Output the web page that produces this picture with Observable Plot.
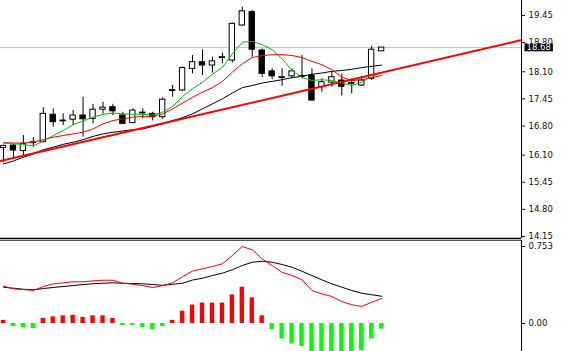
<!DOCTYPE html>
<html><head><meta charset="utf-8">
<script src="https://cdn.jsdelivr.net/npm/d3@7"></script>
<script src="https://cdn.jsdelivr.net/npm/@observablehq/plot@0.6"></script>
<style>
body{margin:0;background:#fff;}
#chart{width:561px;height:351px;overflow:hidden;background:#fff;}
#chart svg{display:block;}
</style></head><body><div id="chart"></div>
<script>
// ---- Price data (OHLC per bar) ----
const opens  = [16.27,16.33,16.20,16.39,16.41,17.07,16.91,16.95,17.05,16.97,17.19,17.25,17.05,16.87,17.10,17.09,17.01,17.64,17.65,18.17,18.33,18.25,18.43,18.37,19.21,19.53,18.61,18.11,17.95,17.99,17.98,18.01,17.73,17.84,17.89,17.81,17.77,17.93,18.59];
const highs  = [16.34,16.37,16.57,16.52,17.24,17.21,17.09,17.17,17.49,17.32,17.37,17.32,17.13,17.21,17.21,17.13,17.48,17.77,18.21,18.49,18.63,18.45,18.55,19.27,19.65,19.57,18.65,18.17,18.17,18.17,18.49,18.17,17.93,18.09,18.04,17.93,17.99,18.71,18.68];
const lows   = [15.92,16.01,16.09,16.29,16.40,16.77,16.81,16.81,16.53,16.85,17.09,17.05,16.84,16.85,16.97,16.92,16.96,17.49,17.63,18.05,18.01,18.07,18.29,18.31,19.19,18.45,17.96,17.91,17.75,17.93,17.93,17.39,17.61,17.73,17.52,17.57,17.75,17.89,18.59];
const closes = [16.32,16.21,16.37,16.41,17.09,16.89,16.93,17.05,16.96,17.19,17.24,17.15,16.85,17.17,17.12,17.01,17.43,17.66,18.19,18.33,18.25,18.35,18.45,19.25,19.55,18.63,18.05,17.99,17.97,18.11,18.00,17.41,17.85,17.97,17.74,17.83,17.89,18.63,18.68];

// ---- Moving averages ----
const maFast = [16.39,16.37,16.36,16.32,16.44,16.57,16.69,16.83,16.92,17.01,17.08,17.11,17.09,17.08,17.08,17.06,17.13,17.27,17.51,17.69,17.85,18.04,18.21,18.53,18.81,18.83,18.75,18.63,18.41,18.13,17.96,17.89,17.91,17.89,17.83,17.77,17.85,17.99,18.08];
const maMid  = [16.40,16.39,16.39,16.41,16.47,16.53,16.57,16.61,16.65,16.73,16.85,16.93,16.97,17.01,17.03,17.03,17.09,17.21,17.35,17.49,17.61,17.72,17.87,18.09,18.29,18.44,18.49,18.51,18.51,18.49,18.44,18.35,18.27,18.15,17.97,17.89,17.91,17.96,18.01];
const maSlow = [15.89,15.96,16.05,16.13,16.23,16.29,16.36,16.41,16.47,16.55,16.61,16.65,16.68,16.71,16.73,16.79,16.85,16.93,17.00,17.09,17.21,17.33,17.45,17.59,17.72,17.77,17.83,17.87,17.91,17.96,17.99,18.04,18.07,18.11,18.13,18.16,18.20,18.23,18.26];

// ---- Trend line anchors (bar index, price) ----
const trendIdx   = [-0.3, 52.06];
const trendPrice = [15.96, 18.86];

// ---- Oscillator panel ----
const histo  = [0.03,-0.03,-0.04,-0.05,0.05,0.065,0.075,0.08,0.06,0.075,0.075,0.05,-0.02,-0.02,-0.04,-0.06,-0.03,0.03,0.12,0.18,0.2,0.2,0.2,0.28,0.355,0.25,0.075,-0.06,-0.15,-0.2,-0.225,-0.3,-0.3,-0.32,-0.3,-0.28,-0.265,-0.15,-0.055];
const macd   = [0.365,0.339,0.332,0.323,0.362,0.388,0.398,0.408,0.408,0.417,0.423,0.423,0.394,0.384,0.371,0.352,0.371,0.398,0.459,0.513,0.535,0.557,0.584,0.665,0.753,0.720,0.632,0.567,0.501,0.469,0.427,0.323,0.290,0.264,0.215,0.183,0.166,0.208,0.244];
const signal = [0.355,0.345,0.335,0.329,0.342,0.352,0.362,0.371,0.381,0.388,0.394,0.398,0.394,0.391,0.388,0.381,0.374,0.384,0.394,0.425,0.443,0.469,0.492,0.525,0.567,0.599,0.609,0.599,0.577,0.550,0.511,0.469,0.427,0.388,0.355,0.323,0.296,0.281,0.267];

// ---- Axis ticks ----
const priceTicks = [19.45, 18.80, 18.10, 17.45, 16.80, 16.10, 15.45, 14.80, 14.15];
const priceTickLabels = ["19.45","18.80","18.10","17.45","16.80","16.10","15.45","14.80","14.15"];
const oscTicks = [0.753, 0];
const oscTickLabels = ["0.753","0.00"];
const lastPrice = 18.68;
const lastPriceLabel = "18.68";

// ---- view settings ----
const xDomain = [-0.3, 52.06];
const priceDomain = [14.10, 19.81];
const oscDomain = [-0.2738, 0.8117];
const FONT = "'DejaVu Sans', Verdana, sans-serif";

const bars = opens.map((o, i) => ({i, o, h: highs[i], l: lows[i], c: closes[i]}));
const ser = arr => arr.map((v, i) => ({i, v}));
const trend = trendIdx.map((i, k) => ({i, v: trendPrice[k]}));

const main = Plot.plot({
  width: 561, height: 239,
  marginLeft: 0, marginRight: 40, marginTop: 0, marginBottom: 1,
  style: {fontFamily: FONT, fontSize: "8.5px", color: "#111", background: "#fff", overflow: "visible"},
  x: {domain: xDomain, axis: null},
  y: {domain: priceDomain, axis: "right", ticks: priceTicks,
      tickFormat: d => priceTickLabels[priceTicks.indexOf(d)], tickSize: 3, tickPadding: 4, label: null},
  marks: [
    Plot.ruleY([lastPrice], {stroke: "#c0c0c0"}),
    Plot.ruleX(bars, {x: "i", y1: "l", y2: "h", stroke: "#000"}),
    Plot.rect(bars, {x1: d => d.i - 0.27, x2: d => d.i + 0.27, y1: "o", y2: "c",
      fill: d => d.c >= d.o ? "#fff" : "#000", stroke: "#000", strokeWidth: 1}),
    Plot.line(ser(maSlow), {x: "i", y: "v", stroke: "#000", strokeWidth: 1}),
    Plot.line(ser(maMid), {x: "i", y: "v", stroke: "#ff0000", strokeWidth: 1}),
    Plot.line(ser(maFast), {x: "i", y: "v", stroke: "#00c000", strokeWidth: 1}),
    Plot.line(trend, {x: "i", y: "v", stroke: "#ff0000", strokeWidth: 2}),
    Plot.ruleX([xDomain[1]], {stroke: "#000"}),
    Plot.ruleY([priceDomain[0]], {stroke: "#000", strokeWidth: 1.5}),
    Plot.text([lastPrice], {x: xDomain[1], y: d => d, text: () => lastPriceLabel, dx: 5,
      textAnchor: "start", fill: "#fff"})
  ]
});

const osc = Plot.plot({
  width: 561, height: 112,
  marginLeft: 0, marginRight: 40, marginTop: 1, marginBottom: 0,
  style: {fontFamily: FONT, fontSize: "8.5px", color: "#111", background: "#fff", overflow: "visible"},
  x: {domain: xDomain, axis: null},
  y: {domain: oscDomain, axis: "right", ticks: oscTicks,
      tickFormat: d => oscTickLabels[oscTicks.indexOf(d)], tickSize: 3, tickPadding: 4, label: null},
  marks: [
    Plot.rectY(ser(histo), {x1: d => d.i - 0.22, x2: d => d.i + 0.22, y1: 0, y2: "v",
      fill: d => d.v >= 0 ? "#ff0000" : "#00ff00", clip: true}),
    Plot.line(ser(signal), {x: "i", y: "v", stroke: "#000", strokeWidth: 1}),
    Plot.line(ser(macd), {x: "i", y: "v", stroke: "#ff0000", strokeWidth: 1}),
    Plot.ruleY([oscDomain[1]], {stroke: "#555"}),
    Plot.ruleX([xDomain[1]], {stroke: "#000"})
  ]
});

const chart = document.getElementById("chart");
chart.appendChild(main);
chart.appendChild(osc);

// black background box behind the current-price label
const texts = Array.from(main.querySelectorAll("text"));
const t = texts.filter(el => el.textContent === lastPriceLabel).pop();
if (t) {
  const sb = main.getBoundingClientRect();
  const bb = t.getBoundingClientRect();
  const ns = "http://www.w3.org/2000/svg";
  const r = document.createElementNS(ns, "rect");
  r.setAttribute("x", bb.left - sb.left - 2);
  r.setAttribute("y", bb.top - sb.top + 1);
  r.setAttribute("width", bb.width + 4);
  r.setAttribute("height", Math.max(1, bb.height - 2));
  r.setAttribute("fill", "#000");
  // put the box just below the label's group so it covers the axis label under it
  let node = t;
  while (node.parentNode && node.parentNode !== main) node = node.parentNode;
  main.insertBefore(r, node);
}
</script>
</body></html>
